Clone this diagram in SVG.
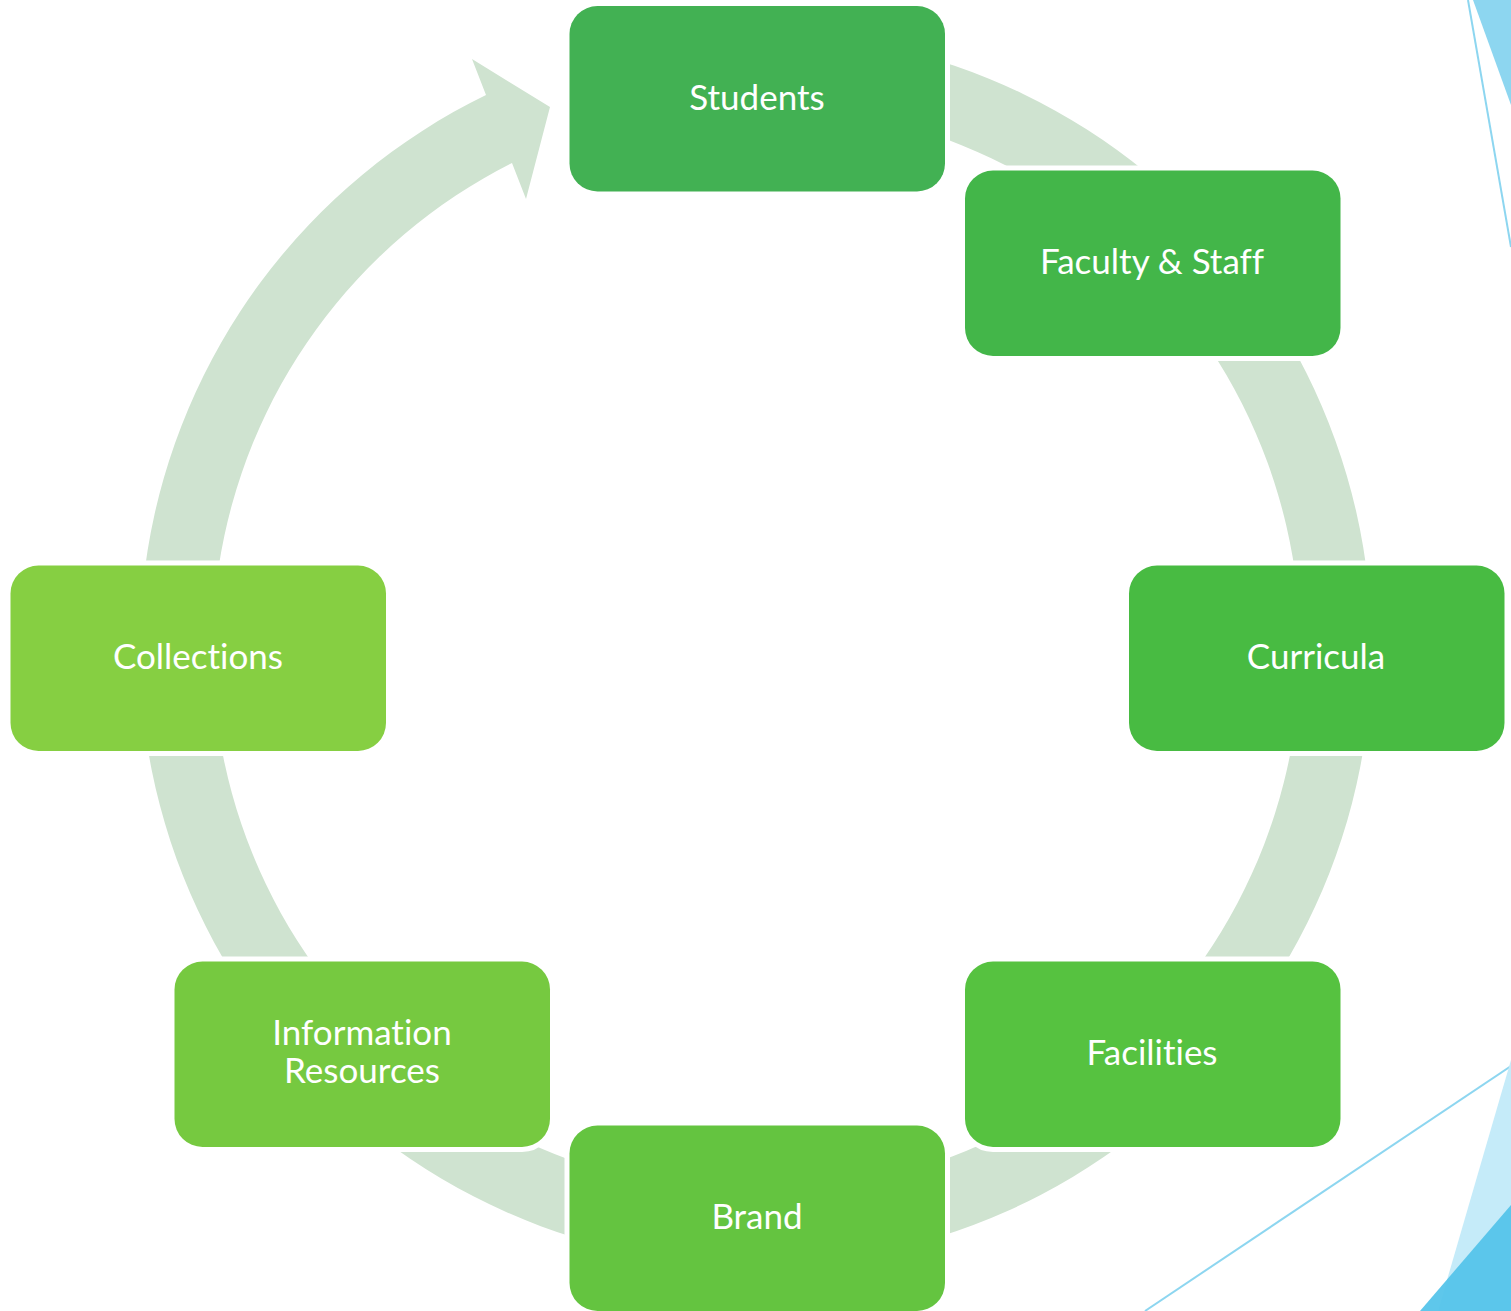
<svg xmlns="http://www.w3.org/2000/svg" width="1511" height="1311" viewBox="0 0 1511 1311">
<style>
.node rect{stroke:#ffffff;stroke-width:10;paint-order:stroke fill}
.node text{font-family:Lato,"Open Sans","Liberation Sans",sans-serif;font-size:35px;fill:#ffffff;text-anchor:middle;font-variant-ligatures:none;font-feature-settings:"liga" 0}
.deco-line{stroke:#8DD6F0;stroke-width:2;fill:none}
</style>
<rect width="1511" height="1311" fill="#ffffff"/>
<g id="decorations">
<polygon points="1473,0 1511,0 1511,105" fill="#8DD6F0"/>
<line class="deco-line" x1="1468" y1="0" x2="1511" y2="247"/>
<line class="deco-line" x1="1145" y1="1311" x2="1511" y2="1066"/>
<polygon points="1511,1060 1438,1311 1511,1311" fill="#C5EBF9"/>
<polygon points="1511,1205 1420,1311 1511,1311" fill="#55C4EA" fill-opacity="0.95"/>
</g>
<g id="connectors">
<path d="M810.7,35.3 A616,616 0 1 1 486,95 L472,59 L550,107 L526,199 L512,163 A544,544 0 1 0 804.4,107.1 Z" fill="#CFE3D0"/>
</g>
<g id="students" class="node"><rect x="569.5" y="6" width="375.5" height="185.5" rx="28" fill="#42B153"/><text x="757" y="110">Students</text></g>
<g id="faculty-staff" class="node"><rect x="965" y="170.5" width="375.5" height="185.5" rx="28" fill="#43B649"/><text x="1152" y="274">Faculty &amp; Staff</text></g>
<g id="curricula" class="node"><rect x="1129" y="565.5" width="375.5" height="185.5" rx="28" fill="#48BB42"/><text x="1316" y="669">Curricula</text></g>
<g id="facilities" class="node"><rect x="965" y="961.5" width="375.5" height="185.5" rx="28" fill="#56C240"/><text x="1152" y="1065">Facilities</text></g>
<g id="brand" class="node"><rect x="569.5" y="1125.5" width="375.5" height="185.5" rx="28" fill="#64C440"/><text x="757" y="1229">Brand</text></g>
<g id="information-resources" class="node"><rect x="174.5" y="961.5" width="375.5" height="185.5" rx="28" fill="#76C940"/><text x="362" y="1045">Information</text><text x="362" y="1083">Resources</text></g>
<g id="collections" class="node"><rect x="10.5" y="565.5" width="375.5" height="185.5" rx="28" fill="#86CF42"/><text x="198" y="669">Collections</text></g>
</svg>
